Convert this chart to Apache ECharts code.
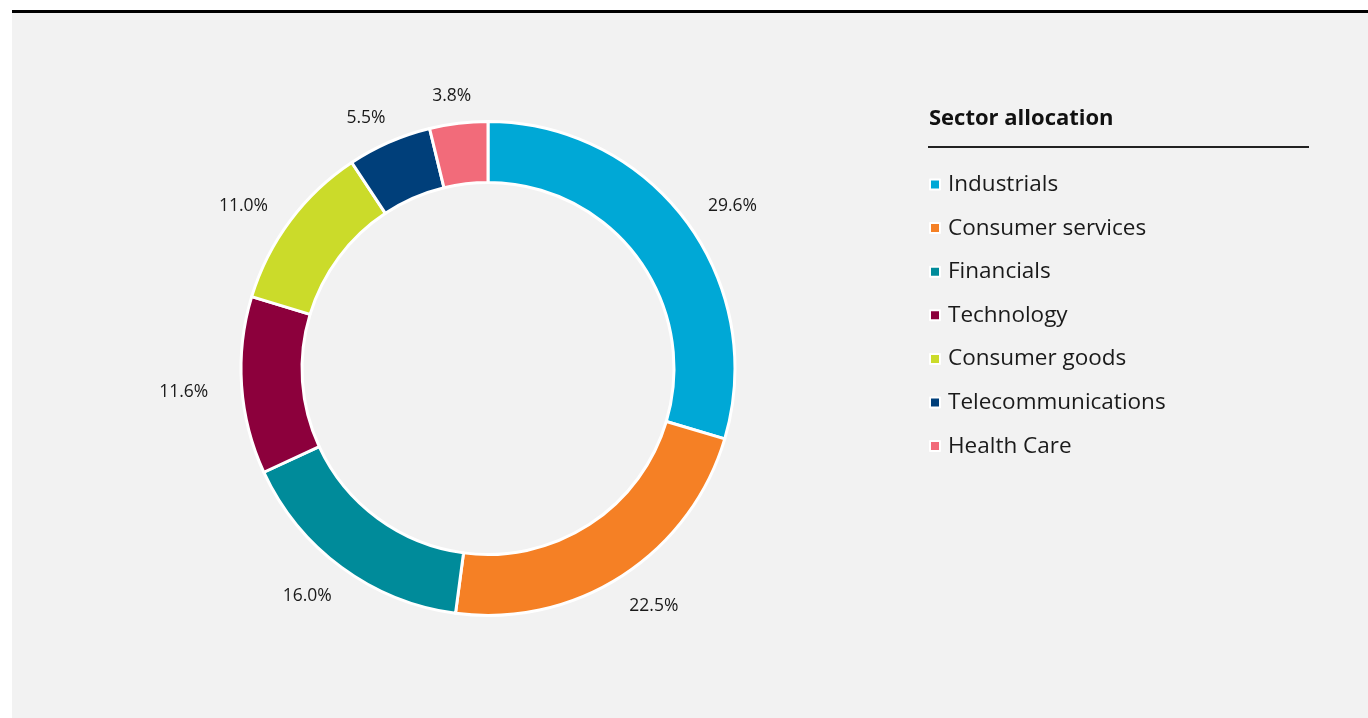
<!DOCTYPE html>
<html>
<head>
<meta charset="utf-8">
<script src="https://cdn.jsdelivr.net/npm/echarts@6/dist/echarts.min.js"></script>
<style>
    html, body{
        margin: 0;
        padding: 0;
        background: #fff;
    }
    #wrap{
        position: absolute;
        left: 12px;
        top: 10px;
        width: 1356px;
        height: 705px;
        border-top: 3px solid #000;
        background: #f2f2f2;
    }
    #pie{
        width: 100%;
        height: 100%;
    }
</style>
</head>
<body>
<div id="wrap"><div id="pie"></div></div>
<script>
    // 数据
    var categories = ['Industrials', 'Consumer services', 'Financials', 'Technology', 'Consumer goods', 'Telecommunications', 'Health Care'];
    var values = [29.6, 22.5, 16.0, 11.6, 11.0, 5.5, 3.8];
    var colors = ['#00a8d6', '#f58025', '#008b9a', '#8c003c', '#cbdb2a', '#003f7a', '#f26b7a'];

    var pieData = [];
    for (var i = 0; i < categories.length; i++) {
        pieData.push({ name: categories[i], value: values[i] });
    }

    //饼图中心及标签椭圆半径
    var cx = 476, cy = 355.5;
    var labelRX = 305, labelRY = 278, labelDY = 4;

    //每块的中间角度（从正上方顺时针）
    var total = 0;
    for (var i = 0; i < values.length; i++) total += values[i];
    var midAngles = [];
    var acc = 0;
    for (var i = 0; i < values.length; i++) {
        midAngles.push((acc + values[i] / 2) / total * Math.PI * 2);
        acc += values[i];
    }

    var myChart = echarts.init(document.getElementById('pie'));
    myChart.setOption({
        color: colors,
        animation: false,
        title: {
            text: 'Sector allocation',
            left: 912,
            top: 89,
            textStyle: {
                fontFamily: 'Open Sans',
                fontSize: 22,
                lineHeight: 24,
                fontWeight: 'bold',
                color: '#111'
            }
        },
        graphic: [{
            type: 'line',
            shape: { x1: 916, y1: 134, x2: 1297, y2: 134 },
            style: { stroke: '#222', lineWidth: 2 }
        }],
        legend: {
            orient: 'vertical',
            left: 912,
            top: 155,
            icon: 'rect',
            itemWidth: 10,
            itemHeight: 10,
            itemGap: 20.6,
            data: categories,
            textStyle: {
                fontFamily: 'Open Sans',
                fontSize: 22.5,
                lineHeight: 20,
                color: '#1a1a1a',
                padding: [0, 0, 0, 3]
            }
        },
        series: [{
            type: 'pie',
            center: [cx, cy],
            radius: [186, 247],
            startAngle: 90,
            clockwise: true,
            avoidLabelOverlap: false,
            itemStyle: {
                borderColor: '#fff',
                borderWidth: 3
            },
            label: {
                position: 'outside',
                fontFamily: 'Open Sans',
                fontSize: 17.5,
                color: '#1a1a1a',
                formatter: function (p) {
                    return p.value.toFixed(1) + '%';
                }
            },
            labelLine: {
                show: false,
                length: 22,
                length2: 0
            },
            //标签居中放在椭圆上
            labelLayout: function (p) {
                var a = midAngles[p.dataIndex];
                return {
                    x: cx + labelRX * Math.sin(a),
                    y: cy + labelDY - labelRY * Math.cos(a),
                    align: 'center',
                    verticalAlign: 'middle'
                };
            },
            emphasis: { disabled: true },
            data: pieData
        }]
    });
</script>
</body>
</html>
